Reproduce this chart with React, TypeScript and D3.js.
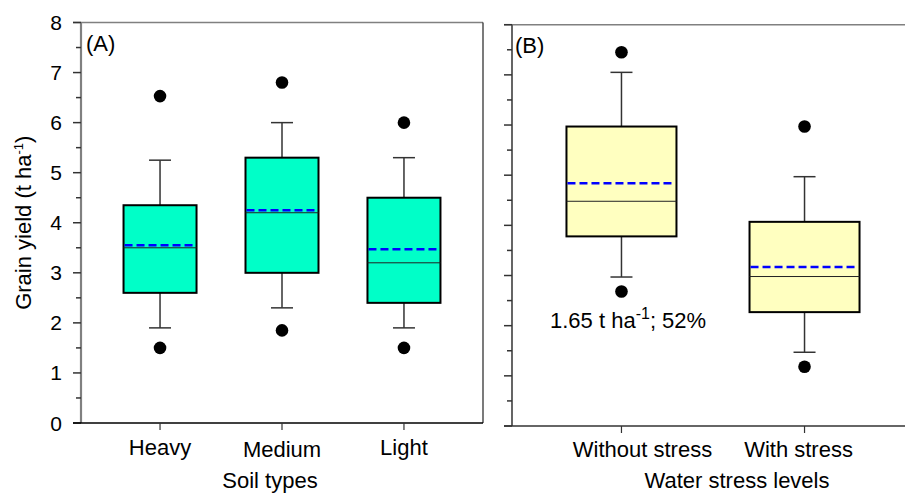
import React, { useRef, useEffect } from 'react';
import * as d3 from 'd3';

// panel A: soil types
const soilTypes = ['Heavy', 'Medium', 'Light'];
const soilQ1 = [2.6, 3.0, 2.4];
const soilMedian = [3.5, 4.2, 3.2];
const soilQ3 = [4.35, 5.3, 4.5];
const soilMean = [3.55, 4.25, 3.47];
const soilWhiskerLow = [1.9, 2.3, 1.9];
const soilWhiskerHigh = [5.25, 6.0, 5.3];
const soilOutlierLow = [1.5, 1.85, 1.5];
const soilOutlierHigh = [6.53, 6.8, 6.0];

// panel B: water stress levels
const stressLevels = ['Without stress', 'With stress'];
const stressQ1 = [3.78, 2.27];
const stressMedian = [4.48, 2.98];
const stressQ3 = [5.97, 4.07];
const stressMean = [4.84, 3.17];
const stressWhiskerLow = [2.97, 1.47];
const stressWhiskerHigh = [7.05, 4.97];
const stressOutlierLow = [2.68, 1.18];
const stressOutlierHigh = [7.45, 5.97];

const yTicks = [0, 1, 2, 3, 4, 5, 6, 7, 8];
const yMinorTicks = [0.5, 1.5, 2.5, 3.5, 4.5, 5.5, 6.5, 7.5];

const W = 905;
const H = 493;
const FONT = '"Liberation Sans", Arial, sans-serif';

const build = (cats, q1, med, q3, mean, wl, wh, ol, oh) =>
  cats.map((c, i) => ({
    cat: c, q1: q1[i], median: med[i], q3: q3[i], mean: mean[i],
    lo: wl[i], hi: wh[i], outLo: ol[i], outHi: oh[i],
  }));

const drawBoxes = (g, data, x, y, boxW, fill) => {
  const capW = 22;
  const box = g.selectAll('g.box').data(data).enter().append('g').attr('class', 'box');

  // whiskers
  box.append('line')
    .attr('x1', d => x(d.cat)).attr('x2', d => x(d.cat))
    .attr('y1', d => y(d.q3)).attr('y2', d => y(d.hi))
    .attr('stroke', '#333').attr('stroke-width', 1.5);
  box.append('line')
    .attr('x1', d => x(d.cat)).attr('x2', d => x(d.cat))
    .attr('y1', d => y(d.q1)).attr('y2', d => y(d.lo))
    .attr('stroke', '#333').attr('stroke-width', 1.5);
  box.append('line')
    .attr('x1', d => x(d.cat) - capW / 2).attr('x2', d => x(d.cat) + capW / 2)
    .attr('y1', d => y(d.hi)).attr('y2', d => y(d.hi))
    .attr('stroke', '#333').attr('stroke-width', 1.5);
  box.append('line')
    .attr('x1', d => x(d.cat) - capW / 2).attr('x2', d => x(d.cat) + capW / 2)
    .attr('y1', d => y(d.lo)).attr('y2', d => y(d.lo))
    .attr('stroke', '#333').attr('stroke-width', 1.5);

  // box
  box.append('rect')
    .attr('x', d => x(d.cat) - boxW / 2).attr('width', boxW)
    .attr('y', d => y(d.q3)).attr('height', d => y(d.q1) - y(d.q3))
    .attr('fill', fill).attr('stroke', '#000').attr('stroke-width', 2);

  // median
  box.append('line')
    .attr('x1', d => x(d.cat) - boxW / 2).attr('x2', d => x(d.cat) + boxW / 2)
    .attr('y1', d => y(d.median)).attr('y2', d => y(d.median))
    .attr('stroke', '#222').attr('stroke-width', 1);

  // mean
  box.append('line')
    .attr('x1', d => x(d.cat) - boxW / 2 + 1).attr('x2', d => x(d.cat) + boxW / 2 - 1)
    .attr('y1', d => y(d.mean)).attr('y2', d => y(d.mean))
    .attr('stroke', '#0000ff').attr('stroke-width', 2.5)
    .attr('stroke-dasharray', '8,4');

  // outliers
  box.append('circle')
    .attr('cx', d => x(d.cat)).attr('cy', d => y(d.outHi)).attr('r', 6.3).attr('fill', '#000');
  box.append('circle')
    .attr('cx', d => x(d.cat)).attr('cy', d => y(d.outLo)).attr('r', 6.3).attr('fill', '#000');
};

const drawYAxis = (g, y, x0, withLabels) => {
  g.selectAll('line.major').data(yTicks).enter().append('line')
    .attr('x1', x0 - 8).attr('x2', x0)
    .attr('y1', d => y(d)).attr('y2', d => y(d))
    .attr('stroke', '#333').attr('stroke-width', 1.5);
  g.selectAll('line.minor').data(yMinorTicks).enter().append('line')
    .attr('x1', x0 - 5).attr('x2', x0)
    .attr('y1', d => y(d)).attr('y2', d => y(d))
    .attr('stroke', '#333').attr('stroke-width', 1.5);
  if (withLabels) {
    g.selectAll('text.tick').data(yTicks).enter().append('text')
      .attr('x', x0 - 19).attr('y', d => y(d)).attr('dy', '0.36em')
      .attr('text-anchor', 'end').attr('font-size', 21)
      .text(d => d);
  }
};

const Chart = () => {
  const svgRef = useRef(null);

  useEffect(() => {
    const svg = d3.select(svgRef.current);
    svg.selectAll('*').remove();
    svg.attr('font-family', FONT);

    // ---------- panel A ----------
    const ax0 = 81, ax1 = 483;
    const yA = d3.scaleLinear().domain([0, 8]).range([423, 22.5]);
    const xA = d3.scalePoint().domain(soilTypes).range([ax0, ax1]).padding(0.648);
    const gA = svg.append('g');
    const soilData = build(soilTypes, soilQ1, soilMedian, soilQ3, soilMean,
      soilWhiskerLow, soilWhiskerHigh, soilOutlierLow, soilOutlierHigh);

    drawBoxes(gA, soilData, xA, yA, 73, '#00ffc8');

    // frame
    gA.append('line').attr('x1', ax0 - 8).attr('x2', ax1).attr('y1', yA(8)).attr('y2', yA(8))
      .attr('stroke', '#808080').attr('stroke-width', 1.5);
    gA.append('line').attr('x1', ax1).attr('x2', ax1).attr('y1', yA(8)).attr('y2', yA(0))
      .attr('stroke', '#222').attr('stroke-width', 1.2);
    gA.append('line').attr('x1', ax0).attr('x2', ax0).attr('y1', yA(8)).attr('y2', yA(0))
      .attr('stroke', '#808080').attr('stroke-width', 2.2);
    drawYAxis(gA, yA, ax0, true);
    gA.append('line').attr('x1', ax0 - 8).attr('x2', ax1).attr('y1', yA(0)).attr('y2', yA(0))
      .attr('stroke', '#000').attr('stroke-width', 1.5);
    gA.selectAll('line.xt').data(soilTypes).enter().append('line')
      .attr('x1', d => xA(d)).attr('x2', d => xA(d))
      .attr('y1', yA(0)).attr('y2', yA(0) + 7)
      .attr('stroke', '#333').attr('stroke-width', 1.2);
    gA.selectAll('text.xl').data(soilTypes).enter().append('text')
      .attr('x', d => xA(d)).attr('y', (d, i) => (i === 1 ? 457 : 455))
      .attr('text-anchor', 'middle').attr('font-size', 22)
      .text(d => d);
    gA.append('text').attr('x', 270).attr('y', 488).attr('text-anchor', 'middle')
      .attr('font-size', 22).text('Soil types');
    gA.append('text').attr('x', 86).attr('y', 51).attr('font-size', 22).text('(A)');

    const yl = gA.append('text')
      .attr('transform', `translate(31,${(yA(0) + yA(8)) / 2}) rotate(-90)`)
      .attr('text-anchor', 'middle').attr('font-size', 22);
    yl.append('tspan').text('Grain yield (t ha');
    yl.append('tspan').attr('dy', -8).attr('font-size', 13).text('-1');
    yl.append('tspan').attr('dy', 8).text(')');

    // ---------- panel B ----------
    const bx0 = 512, bx1 = 914;
    const yB = d3.scaleLinear().domain([0, 8]).range([426, 24.7]);
    const xB = d3.scalePoint().domain(stressLevels).range([bx0, bx1]).padding(0.598);
    const gB = svg.append('g');
    const stressData = build(stressLevels, stressQ1, stressMedian, stressQ3, stressMean,
      stressWhiskerLow, stressWhiskerHigh, stressOutlierLow, stressOutlierHigh);

    drawBoxes(gB, stressData, xB, yB, 110, '#ffffc0');

    gB.append('line').attr('x1', bx0 - 8).attr('x2', bx1).attr('y1', yB(8)).attr('y2', yB(8))
      .attr('stroke', '#808080').attr('stroke-width', 1.5);
    gB.append('line').attr('x1', bx0).attr('x2', bx0).attr('y1', yB(8)).attr('y2', yB(0))
      .attr('stroke', '#555').attr('stroke-width', 1.8);
    drawYAxis(gB, yB, bx0, false);
    gB.append('line').attr('x1', bx0 - 8).attr('x2', bx1).attr('y1', yB(0)).attr('y2', yB(0))
      .attr('stroke', '#333').attr('stroke-width', 1.5);
    gB.selectAll('line.xt').data(stressLevels).enter().append('line')
      .attr('x1', d => xB(d)).attr('x2', d => xB(d))
      .attr('y1', yB(0)).attr('y2', yB(0) + 7)
      .attr('stroke', '#333').attr('stroke-width', 1.2);
    const labelShift = [21, -6];
    gB.selectAll('text.xl').data(stressLevels).enter().append('text')
      .attr('x', (d, i) => xB(d) + labelShift[i]).attr('y', 457)
      .attr('text-anchor', 'middle').attr('font-size', 22)
      .text(d => d);
    gB.append('text').attr('x', 737).attr('y', 488).attr('text-anchor', 'middle')
      .attr('font-size', 22).text('Water stress levels');
    gB.append('text').attr('x', 515).attr('y', 53).attr('font-size', 22).text('(B)');

    const ann = gB.append('text').attr('x', 550).attr('y', 328).attr('font-size', 22);
    ann.append('tspan').text('1.65 t ha');
    ann.append('tspan').attr('dy', -9).attr('font-size', 16).text('-1');
    ann.append('tspan').attr('dy', 9).text('; 52%');
  }, []);

  return <svg ref={svgRef} width={W} height={H} style={{ position: 'absolute', left: 0, top: 0 }}></svg>;
};

export default function App() {
  return <Chart />;
}
